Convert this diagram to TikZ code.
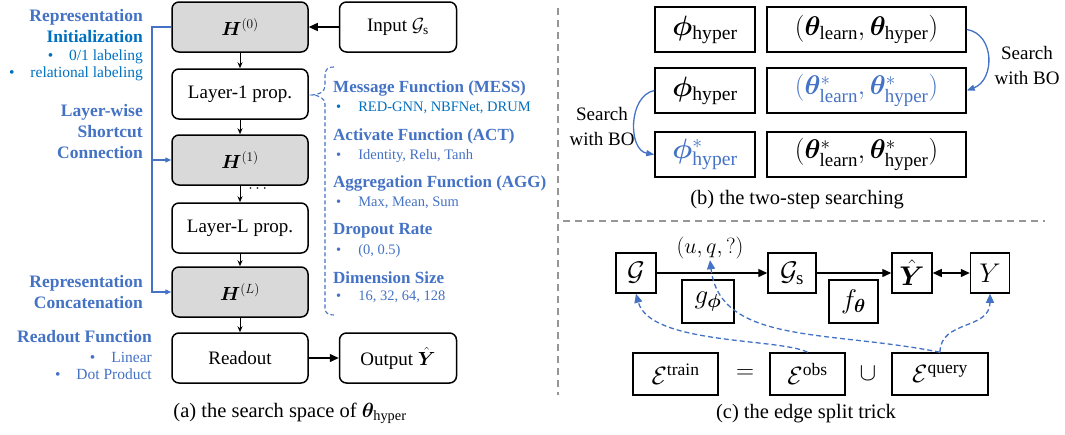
\RequirePackage{fix-cm}
\documentclass[tikz,border=0pt]{standalone}
\usepackage{amsmath}
\usepackage{bm}
\usepackage{fontspec}
\setmainfont{Liberation Serif}
\usetikzlibrary{arrows.meta,calc}

\definecolor{headblue}{RGB}{68,114,196}
\definecolor{itemblue}{RGB}{0,112,192}
\definecolor{boxgray}{RGB}{217,217,217}
\definecolor{divgray}{RGB}{150,150,150}

\tikzset{
  layerbox/.style={draw, line width=1.5pt, rounded corners=7pt, minimum width=136pt,
    minimum height=50pt, inner sep=0pt, font=\fontsize{19}{23}\selectfont},
  hbox/.style={layerbox, fill=boxgray},
  iobox/.style={layerbox, minimum width=117pt},
  flatbox/.style={draw, line width=1.5pt, inner sep=0pt},
  stepdown/.style={-{Stealth[length=6pt,width=5pt]}, line width=0.9pt},
  bigarrow/.style={-{Triangle[length=9pt,width=8pt]}, line width=1.4pt},
  shortcut/.style={headblue, line width=1.3pt},
  shortcutarrow/.style={shortcut, -{Triangle[length=6pt,width=5pt]}},
  lefthead/.style={headblue, font=\bfseries\fontsize{17.5}{21}\selectfont, align=right,
    anchor=east, inner sep=0pt},
  leftitem/.style={font=\fontsize{15.5}{17.5}\selectfont, align=right, anchor=east, inner sep=0pt},
  midhead/.style={headblue, font=\bfseries\fontsize{17}{20}\selectfont, anchor=west, inner sep=0pt},
  miditem/.style={headblue, font=\fontsize{14.5}{17}\selectfont, anchor=west, inner sep=0pt},
  bracestyle/.style={headblue, line width=1.1pt, dash pattern=on 4pt off 2.5pt},
  divider/.style={divgray, line width=1.1pt, dash pattern=on 7pt off 5pt},
  caption/.style={font=\fontsize{20.5}{24}\selectfont, inner sep=0pt},
  pbox/.style={flatbox, minimum width=100pt, minimum height=45pt, font=\fontsize{28}{30}\selectfont},
  tbox/.style={flatbox, minimum width=199pt, minimum height=45pt, font=\fontsize{27}{30}\selectfont},
  searchlab/.style={font=\fontsize{19}{25}\selectfont, align=center, inner sep=0pt},
  boarrow/.style={headblue, line width=1.3pt, -{Triangle[length=8pt,width=6pt]}},
  cbox/.style={flatbox, minimum height=40pt, font=\fontsize{27}{30}\selectfont},
  ebox/.style={flatbox, minimum height=42pt, font=\fontsize{25}{28}\selectfont},
  flowarrow/.style={line width=1.4pt, -{Triangle[length=9pt,width=8pt]}},
  splitarrow/.style={headblue, line width=1.3pt, dash pattern=on 5pt off 3pt,
    -{Triangle[length=9pt,width=8pt]}},
}

\begin{document}
\begin{tikzpicture}[x=1pt, y=-1pt]
  \useasboundingbox (0,0) rectangle (1065,434);

  %%%%% (a) search space %%%%%
  \node[hbox] (h0) at (240,27) {$\bm{H}^{(0)}$};
  \node[layerbox] (l1) at (240,94) {Layer-1 prop.};
  \node[hbox] (h1) at (240,160) {$\bm{H}^{(1)}$};
  \node[layerbox] (lL) at (240,228) {Layer-L prop.};
  \node[hbox] (hL) at (240,292) {$\bm{H}^{(L)}$};
  \node[layerbox] (readout) at (240,358) {Readout};
  \node[iobox] (input) at (398,27) {Input $\mathcal{G}_{\text{s}}$};
  \node[iobox] (output) at (398,358) {Output $\hat{\bm{Y}}$};
  \node[font=\fontsize{16}{18}\selectfont, inner sep=0pt] (dots) at (259,189) {$\cdots$};

  \draw[stepdown] (h0) -- (l1);
  \draw[stepdown] (l1) -- (h1);
  \draw[stepdown] (h1) -- (lL);
  \draw[stepdown] (lL) -- (hL);
  \draw[stepdown] (hL) -- (readout);
  \draw[bigarrow] (input) -- (h0);
  \draw[bigarrow] (readout) -- (output);

  % shortcut rail
  \coordinate (rail) at (152,27);
  \draw[shortcutarrow] (h0.west) -- (rail) |- (hL.west);
  \draw[shortcutarrow] (rail |- h1.west) -- (h1.west);

  % left labels
  \node[lefthead] (repinit) at (143,26) {Representation\\{\color{itemblue}Initialization}};
  \node[leftitem, itemblue] (initopts) at (143,65.5)
    {\textbullet\hspace{16pt}0/1 labeling\\\textbullet\hspace{16pt}relational labeling};
  \node[lefthead] (shortcutlab) at (143,132) {Layer-wise\\Shortcut\\Connection};
  \node[lefthead] (concatlab) at (143,292) {Representation\\Concatenation};
  \node[lefthead] (readlab) at (152,337) {Readout Function};
  \node[leftitem, headblue] (readopts) at (152,366)
    {\textbullet\hspace{16pt}Linear\\\textbullet\hspace{16pt}Dot Product};

  % layer options
  \draw[bracestyle] (334,67) .. controls (327,67) and (325,70) .. (325,76) -- (325,86)
    .. controls (325,92) and (318,95) .. (312,95)
    .. controls (318,95) and (325,98) .. (325,104) -- (325,308)
    .. controls (325,313) and (328,315) .. (334,315);
  \node[midhead] (mess) at (333,88) {Message Function (MESS)};
  \node[miditem, itemblue] (messopts) at (336,108) {\textbullet\hspace{17pt}RED-GNN, NBFNet, DRUM};
  \node[midhead] (act) at (333,136) {Activate Function (ACT)};
  \node[miditem] (actopts) at (336,156) {\textbullet\hspace{17pt}Identity, Relu, Tanh};
  \node[midhead] (agg) at (333,183) {Aggregation Function (AGG)};
  \node[miditem] (aggopts) at (336,203) {\textbullet\hspace{17pt}Max, Mean, Sum};
  \node[midhead] (drop) at (333,231) {Dropout Rate};
  \node[miditem] (dropopts) at (336,251) {\textbullet\hspace{17pt}(0, 0.5)};
  \node[midhead] (dim) at (333,278) {Dimension Size};
  \node[miditem] (dimopts) at (336,297) {\textbullet\hspace{17pt}16, 32, 64, 128};

  \node[caption] (capa) at (290,413) {(a) the search space of $\bm{\theta}_{\text{hyper}}$};

  %%%%% dividers %%%%%
  \draw[divider] (558,8) -- (558,395);
  \draw[divider] (563,221) -- (1045,221);

  %%%%% (b) two-step searching %%%%%
  \node[pbox] (p1) at (705,29.5) {$\bm{\phi}_{\text{hyper}}$};
  \node[tbox] (t1) at (866.5,29.5) {$(\bm{\theta}_{\text{learn}}, \bm{\theta}_{\text{hyper}})$};
  \node[pbox] (p2) at (705,90.5) {$\bm{\phi}_{\text{hyper}}$};
  \node[tbox, text=headblue] (t2) at (866.5,90.5) {$(\bm{\theta}^{*}_{\text{learn}}, \bm{\theta}^{*}_{\text{hyper}})$};
  \node[pbox, text=headblue] (p3) at (705,154.5) {$\bm{\phi}^{*}_{\text{hyper}}$};
  \node[tbox] (t3) at (866.5,154.5) {$(\bm{\theta}^{*}_{\text{learn}}, \bm{\theta}^{*}_{\text{hyper}})$};

  \draw[boarrow] (t1.east) .. controls (995,34) and (995,80) .. (t2.east);
  \node[searchlab] (bo1) at (1027,65) {Search\\with BO};
  \draw[boarrow] (p2.west) .. controls (628,96) and (628,150) .. (p3.west);
  \node[searchlab] (bo2) at (602,126) {Search\\with BO};

  \node[caption] (capb) at (797,200) {(b) the two-step searching};

  %%%%% (c) edge split trick %%%%%
  \node[cbox, minimum width=40pt] (g) at (636,273) {$\mathcal{G}$};
  \node[cbox, minimum width=48pt] (gs) at (792,273) {$\mathcal{G}_{\text{s}}$};
  \node[cbox, minimum width=40pt] (yhat) at (912,273) {$\hat{\bm{Y}}$};
  \node[cbox, minimum width=39pt] (y) at (990,273) {$Y$};
  \node[cbox, minimum width=52pt, minimum height=43pt] (gphi) at (708,301.5) {$g_{\bm{\phi}}$};
  \node[cbox, minimum width=49pt, minimum height=43pt] (ftheta) at (853.5,301.5) {$f_{\bm{\theta}}$};
  \node[font=\fontsize{22}{24}\selectfont, inner sep=1pt] (uq) at (710,248) {$(u,q,?)$};

  \draw[flowarrow] (g) -- (gs);
  \draw[flowarrow] (gs) -- (yhat);
  \draw[flowarrow, {Triangle[length=9pt,width=8pt]}-{Triangle[length=9pt,width=8pt]}] (yhat) -- (y);

  \node[ebox, minimum width=85pt] (etrain) at (675.5,374) {$\mathcal{E}^{\text{train}}$};
  \node[font=\fontsize{25}{28}\selectfont] (eq) at (745,374) {$=$};
  \node[ebox, minimum width=75pt] (eobs) at (807.5,374) {$\mathcal{E}^{\text{obs}}$};
  \node[font=\fontsize{25}{28}\selectfont] (cup) at (868,374) {$\cup$};
  \node[ebox, minimum width=96pt] (equery) at (940,374) {$\mathcal{E}^{\text{query}}$};

  \draw[splitarrow] (eobs.north) .. controls (780,338) and (650,345) .. (g.south);
  \draw[splitarrow] (equery.north) .. controls (830,330) and (720,345) .. (uq.south);
  \draw[splitarrow] (equery.north) .. controls (940,320) and (990,330) .. (y.south);

  \node[caption] (capc) at (806,414) {(c) the edge split trick};
\end{tikzpicture}
\end{document}
